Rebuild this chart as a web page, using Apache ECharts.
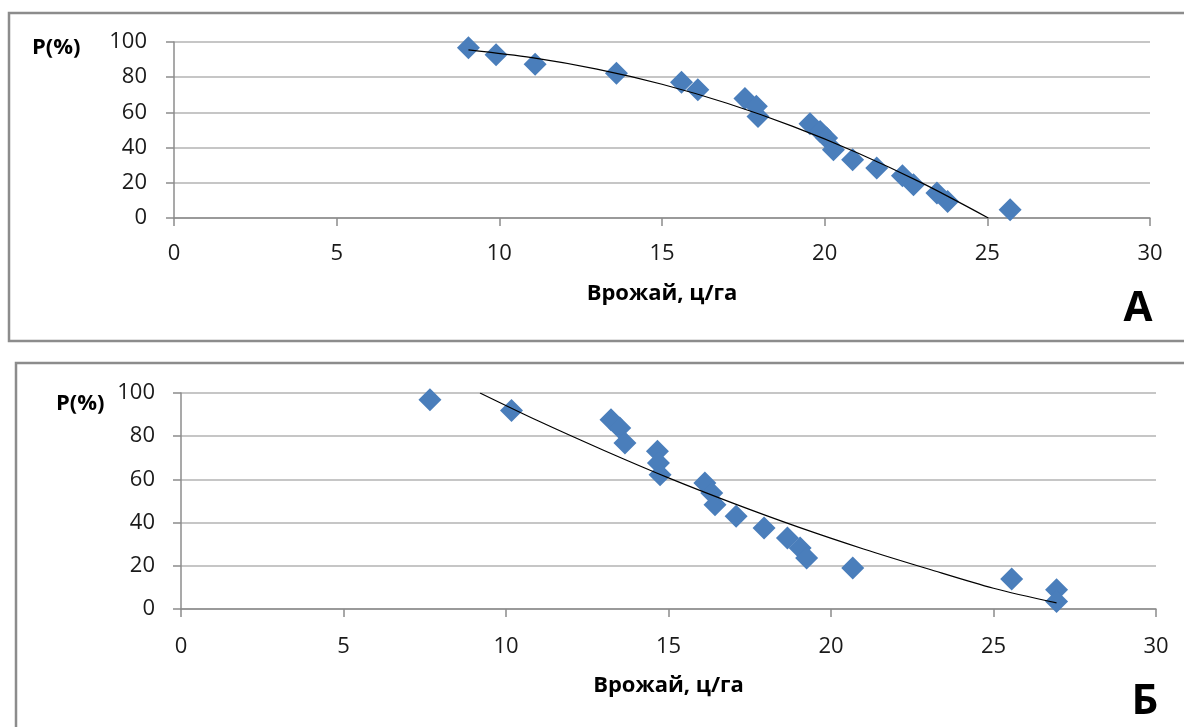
<!DOCTYPE html>
<html>
<head>
<meta charset="utf-8">
<script src="https://cdn.jsdelivr.net/npm/echarts@6/dist/echarts.min.js"></script>
<style>
  html, body { margin: 0; padding: 0; background: #fff; }
  #chart { width: 1184px; height: 727px; }
</style>
</head>
<body>
<div id="chart"></div>
<script>
// ticks
const xTicks = [0, 5, 10, 15, 20, 25, 30]
const yTicks = [0, 20, 40, 60, 80, 100]

// панель А
const yieldA = [9.05, 9.9, 11.1, 13.6, 15.6, 16.1, 17.55, 17.9, 17.95, 19.55, 19.86, 20.06, 20.27, 20.86, 21.6, 22.39, 22.73, 23.45, 23.78, 25.7]
const probA = [96.8, 92.7, 87.4, 82.3, 77.2, 72.8, 67.9, 63.5, 57.7, 53.5, 49.2, 45.4, 38.8, 33.1, 28.4, 24.0, 18.9, 14.2, 9.4, 4.7]
const trendXA = [9.05, 11, 13, 15, 17, 19, 21, 23, 25.03]
const trendYA = [95.5, 91.1, 84.6, 76.0, 65.2, 52.2, 37.1, 19.8, 0]

// панель Б
const yieldB = [7.66, 10.17, 13.23, 13.5, 13.66, 14.66, 14.69, 14.74, 16.12, 16.33, 16.43, 17.08, 17.94, 18.66, 19.05, 19.25, 20.67, 25.56, 26.94, 26.94]
const probB = [96.9, 91.9, 87.6, 83.8, 76.8, 73.0, 67.6, 62.2, 58.3, 53.7, 48.3, 42.9, 37.5, 32.9, 28.2, 23.6, 19.0, 13.9, 8.9, 3.5]
const trendXB = [9.2, 11, 13, 15, 17, 19, 21, 23, 25, 26.94]
const trendYB = [100, 87.0, 73.5, 60.7, 48.9, 37.9, 27.8, 18.5, 9.6, 2.8]

const font = '"Open Sans", "Noto Sans", sans-serif'
const zip = (xs, ys) => xs.map((x, i) => [x, ys[i]])

const xAxisOf = (gridIndex, gap, labelGap) => ({
  gridIndex,
  type: 'value',
  min: xTicks[0],
  max: xTicks[xTicks.length - 1],
  interval: xTicks[1] - xTicks[0],
  name: 'Врожай, ц/га',
  nameLocation: 'middle',
  nameGap: gap,
  nameTextStyle: { fontFamily: font, fontWeight: 'bold', fontSize: 22, color: '#000' },
  axisLine: { lineStyle: { color: '#8c8c8c', width: 1.5 } },
  axisTick: { length: 8, lineStyle: { color: '#8c8c8c', width: 1.5 } },
  axisLabel: { fontFamily: font, fontSize: 22, color: '#1a1a1a', margin: labelGap },
  splitLine: { show: false }
})

const yAxisOf = (gridIndex, labelGap) => ({
  gridIndex,
  type: 'value',
  min: yTicks[0],
  max: yTicks[yTicks.length - 1],
  interval: yTicks[1] - yTicks[0],
  axisLine: { show: true, lineStyle: { color: '#8c8c8c', width: 1.5 } },
  axisTick: { show: true, length: 8, lineStyle: { color: '#8c8c8c', width: 1.5 } },
  axisLabel: { fontFamily: font, fontSize: 22, color: '#1a1a1a', margin: labelGap },
  splitLine: { lineStyle: { color: '#b3b3b3', width: 1.5 } }
})

const scatterOf = (i, xs, ys) => ({
  type: 'scatter',
  xAxisIndex: i,
  yAxisIndex: i,
  symbol: 'diamond',
  symbolSize: 23,
  itemStyle: { color: '#4a7ebb', opacity: 1 },
  data: zip(xs, ys),
  z: 2
})

const trendOf = (i, xs, ys) => ({
  type: 'line',
  xAxisIndex: i,
  yAxisIndex: i,
  smooth: 0.3,
  showSymbol: false,
  lineStyle: { color: '#000', width: 1.2 },
  data: zip(xs, ys),
  z: 3
})

const myChart = echarts.init(document.getElementById('chart'))
const option = {
  animation: false,
  grid: [
    { left: 174, top: 42, width: 976, height: 176 },
    { left: 181, top: 393, width: 975, height: 216 }
  ],
  xAxis: [xAxisOf(0, 65, 25), xAxisOf(1, 66, 27)],
  yAxis: [yAxisOf(0, 27), yAxisOf(1, 26)],
  series: [
    scatterOf(0, yieldA, probA),
    trendOf(0, trendXA, trendYA),
    scatterOf(1, yieldB, probB),
    trendOf(1, trendXB, trendYB)
  ],
  graphic: [
    { type: 'rect', shape: { x: 9, y: 13, width: 1200, height: 328 }, style: { fill: 'none', stroke: '#8c8c8c', lineWidth: 2.5 } },
    { type: 'rect', shape: { x: 16, y: 363, width: 1200, height: 420 }, style: { fill: 'none', stroke: '#8c8c8c', lineWidth: 2.5 } },
    { type: 'text', x: 32, y: 48, style: { text: 'P(%)', font: 'bold 22px ' + font, fill: '#000', textVerticalAlign: 'middle' } },
    { type: 'text', x: 56, y: 404, style: { text: 'P(%)', font: 'bold 22px ' + font, fill: '#000', textVerticalAlign: 'middle' } },
    { type: 'text', x: 1138, y: 309, style: { text: 'А', font: 'bold 42px ' + font, fill: '#000', textAlign: 'center', textVerticalAlign: 'middle' } },
    { type: 'text', x: 1145, y: 702, style: { text: 'Б', font: 'bold 42px ' + font, fill: '#000', textAlign: 'center', textVerticalAlign: 'middle' } }
  ]
}
option && myChart.setOption(option)
</script>
</body>
</html>
